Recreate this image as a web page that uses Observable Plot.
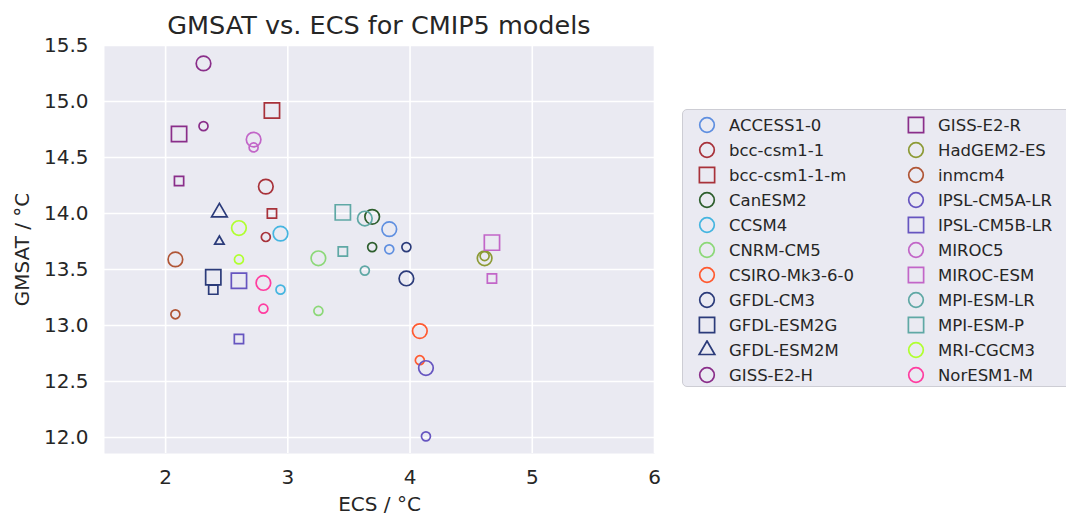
<!DOCTYPE html>
<html>
<head>
<meta charset="utf-8">
<script src="https://cdn.jsdelivr.net/npm/d3@7"></script>
<script src="https://cdn.jsdelivr.net/npm/@observablehq/plot@0.6"></script>
<style>
  html, body { margin: 0; padding: 0; background: #fff; }
  #wrap { position: relative; width: 1066px; height: 516px; overflow: hidden; font-family: "DejaVu Sans", sans-serif; color: #262626; }
  #title { position: absolute; left: 104px; width: 550px; top: 11px; text-align: center; font-size: 25.5px; line-height: 28px; white-space: nowrap; }
  #legend { position: absolute; left: 682px; top: 109px; width: 420px; height: 278px; background: #EAEAF2; border: 1px solid #cdcdd4; border-radius: 5px; box-sizing: border-box; }
  .item { position: absolute; height: 24px; display: flex; align-items: center; font-size: 16.5px; white-space: nowrap; }
  .item svg { margin-right: 12px; }
  #chart { position: absolute; left: 0; top: 0; }
</style>
</head>
<body>
<div id="wrap">
  <div id="chart"></div>
  <div id="title">GMSAT vs. ECS for CMIP5 models</div>
  <div id="legend"></div>
</div>
<script>
// ---- data ----
const models = ["ACCESS1-0","bcc-csm1-1","bcc-csm1-1-m","CanESM2","CCSM4","CNRM-CM5","CSIRO-Mk3-6-0","GFDL-CM3","GFDL-ESM2G","GFDL-ESM2M","GISS-E2-H","GISS-E2-R","HadGEM2-ES","inmcm4","IPSL-CM5A-LR","IPSL-CM5B-LR","MIROC5","MIROC-ESM","MPI-ESM-LR","MPI-ESM-P","MRI-CGCM3","NorESM1-M"];
const ecs      = [3.83, 2.82, 2.87, 3.69, 2.94, 3.25, 4.08, 3.97, 2.39, 2.44, 2.31, 2.11, 4.61, 2.08, 4.13, 2.60, 2.72, 4.67, 3.63, 3.45, 2.60, 2.80];
const gmsatLarge = [13.86, 14.24, 14.92, 13.97, 13.82, 13.60, 12.95, 13.42, 13.43, 14.01, 15.34, 14.71, 13.60, 13.59, 12.62, 13.40, 14.66, 13.74, 13.955, 14.01, 13.87, 13.38];
const gmsatSmall = [13.68, 13.79, 14.00, 13.70, 13.32, 13.13, 12.69, 13.70, 13.32, 13.75, 14.78, 14.29, 13.62, 13.10, 12.01, 12.88, 14.59, 13.42, 13.49, 13.66, 13.59, 13.15];
const modelShapes = ["circle","circle","square","circle","circle","circle","circle","circle","square","triangle","circle","square","circle","circle","circle","square","circle","square","circle","square","circle","circle"];
const modelColors = ["#5f8fe0","#a8323a","#a8323a","#2d5e2d","#45b5e0","#8cd878","#ff5a30","#2b3b7a","#2b3b7a","#2b3b7a","#8a2e8a","#8a2e8a","#8c9a35","#b05535","#6655c0","#6655c0","#c266c8","#c266c8","#5fa8a5","#5fa8a5","#b0ff30","#ff3da0"];
const xTicks = [2, 3, 4, 5, 6];
const yTicks = [12.0, 12.5, 13.0, 13.5, 14.0, 14.5, 15.0, 15.5];

const rows = models.map((m, i) => ({model: m, ecs: ecs[i], large: gmsatLarge[i], small: gmsatSmall[i], shape: modelShapes[i], color: modelColors[i]}));

const bigR = {circle: 7.3, square: 8.6, triangle: 5.8};
const smallR = {circle: 4.5, square: 5.2, triangle: 3.5};
const shapes = ["circle", "square", "triangle"];

const marks = [
  Plot.frame({fill: "#EAEAF2", stroke: "none"}),
  Plot.gridX(xTicks, {stroke: "#fff", strokeOpacity: 1, strokeWidth: 1.6}),
  Plot.gridY(yTicks, {stroke: "#fff", strokeOpacity: 1, strokeWidth: 1.6}),
  Plot.axisX(xTicks, {tickSize: 0, tickPadding: 16, fill: "#262626", tickFormat: d3.format("d"), label: "ECS / °C", labelAnchor: "center", labelArrow: "none", labelOffset: 57}),
  Plot.axisY(yTicks, {tickSize: 0, tickPadding: 16, fill: "#262626", tickFormat: d3.format(".1f"), label: "GMSAT / °C", labelAnchor: "center", labelArrow: "none", labelOffset: 90})
];
for (const s of shapes) {
  const sub = rows.filter(d => d.shape === s);
  marks.push(Plot.dot(sub, {x: "ecs", y: "small", symbol: () => s, stroke: "color", r: smallR[s], strokeWidth: 1.7, fill: "none"}));
  marks.push(Plot.dot(sub, {x: "ecs", y: "large", symbol: () => s, stroke: "color", r: bigR[s], strokeWidth: 1.7, fill: "none"}));
}

const chart = Plot.plot({
  width: 1066,
  height: 516,
  marginLeft: 104,
  marginRight: 412,
  marginTop: 45,
  marginBottom: 63,
  style: {fontFamily: "DejaVu Sans, sans-serif", fontSize: "20px", color: "#262626", background: "transparent"},
  x: {domain: [1.5, 6]},
  y: {domain: [11.857, 15.5]},
  color: {type: "identity"},
  symbol: {domain: shapes, range: shapes},
  marks
});
document.getElementById("chart").appendChild(chart);

// ---- legend ----
const legend = document.getElementById("legend");
models.forEach((m, i) => {
  const col = i < 11 ? 0 : 1;
  const row = i % 11;
  const item = document.createElement("div");
  item.className = "item";
  item.style.left = (col === 0 ? 14 : 223) + "px";
  item.style.top = (3 + row * 25) + "px";
  const s = modelShapes[i];
  const r = bigR[s];
  const sym = {circle: d3.symbolCircle, square: d3.symbolSquare, triangle: d3.symbolTriangle}[s];
  const path = d3.symbol(sym, Math.PI * r * r)();
  item.innerHTML = `<svg width="20" height="20" viewBox="-10 -10 20 20"><path d="${path}" fill="none" stroke="${modelColors[i]}" stroke-width="1.7"/></svg><span>${m}</span>`;
  legend.appendChild(item);
});
</script>
</body>
</html>
